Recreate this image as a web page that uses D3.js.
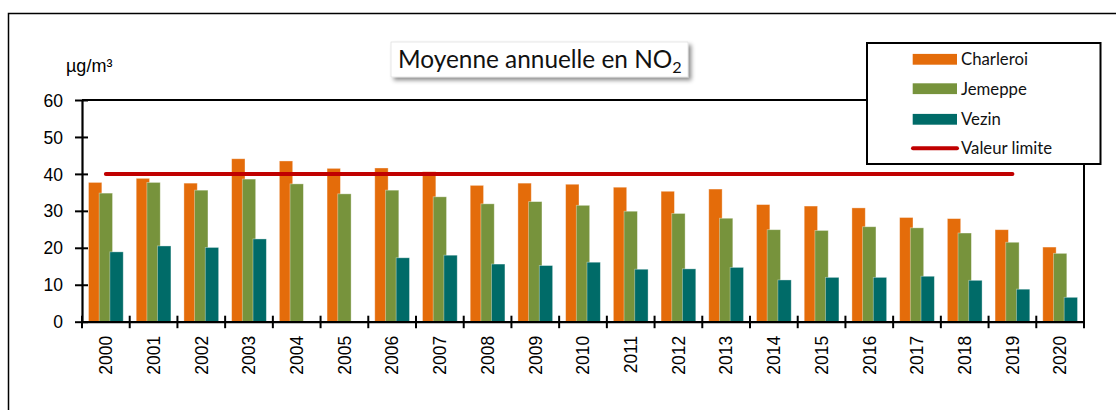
<!DOCTYPE html>
<html>
<head>
<meta charset="utf-8">
<script src="https://cdn.jsdelivr.net/npm/d3@7"></script>
<style>
  html, body { margin: 0; padding: 0; background: #fff; }
  svg { display: block; }
</style>
</head>
<body>
<script>
// ---- Data ----
const years = ["2000","2001","2002","2003","2004","2005","2006","2007","2008","2009","2010",
               "2011","2012","2013","2014","2015","2016","2017","2018","2019","2020"];
const charleroi = [37.7,38.8,37.5,44.1,43.5,41.5,41.6,40.6,36.9,37.5,37.2,36.4,35.3,35.9,31.7,31.3,30.8,28.2,27.9,24.9,20.2];
const jemeppe   = [34.8,37.7,35.6,38.6,37.3,34.6,35.6,33.8,31.9,32.5,31.5,29.9,29.3,28.0,24.9,24.7,25.7,25.4,24.0,21.5,18.5];
const vezin     = [18.9,20.5,20.1,22.4,null,null,17.3,18.0,15.6,15.2,16.1,14.2,14.3,14.7,11.3,12.0,12.0,12.3,11.2,8.8,6.6];
const limitValue = 40;
const limitYears = ["2000","2019"];
const yTicks = [0,10,20,30,40,50,60];
const seriesNames = ["Charleroi","Jemeppe","Vezin"];
const limitName = "Valeur limite";
const titleText = "Moyenne annuelle en NO";
const titleSub = "2";
const unitText = "µg/m³";

// ---- Layout ----
const W = 1116, H = 410;
const colors = ["#E46C0A", "#77933C", "#006B68"];
const limitColor = "#C00000";

const svg = d3.select("body").append("svg").attr("width", W).attr("height", H);

const defs = svg.append("defs");
const f = defs.append("filter").attr("id","shadow").attr("x","-10%").attr("y","-30%").attr("width","130%").attr("height","180%");
f.append("feDropShadow").attr("dx",3).attr("dy",3).attr("stdDeviation",2.2).attr("flood-color","#000").attr("flood-opacity",0.45);

// outer frame (left & top)
svg.append("path").attr("d", `M8.5,${H} L8.5,13.5 L${W},13.5`)
  .attr("fill","none").attr("stroke","#000").attr("stroke-width",1.5);

const x = d3.scaleBand().domain(years).range([82, 1084]).padding(0);
const y = d3.scaleLinear().domain([0, 60]).range([321.7, 100]);

const bw = x.bandwidth();
const barW = bw * 0.28;
const step = bw * 0.224;
const groupOff = (bw - (2 * step + barW)) / 2;

// plot frame (top & right)
svg.append("path")
  .attr("d", `M82,${y(60)} L1084,${y(60)} L1084,${y(0)}`)
  .attr("fill","none").attr("stroke","#000").attr("stroke-width",2);

// bars
const series = [charleroi, jemeppe, vezin];
series.forEach((vals, si) => {
  svg.append("g").selectAll("rect")
    .data(years.map((yr, i) => ({yr, v: vals[i]})).filter(d => d.v != null))
    .join("rect")
    .attr("x", d => x(d.yr) + groupOff + si * step)
    .attr("y", d => y(d.v))
    .attr("width", barW)
    .attr("height", d => y(0) - y(d.v))
    .attr("fill", colors[si])
    .attr("stroke", "rgba(255,255,255,0.45)")
    .attr("stroke-width", 0.8);
});

// limit line
svg.append("line")
  .attr("x1", x(limitYears[0]) + bw/2)
  .attr("x2", x(limitYears[1]) + bw/2)
  .attr("y1", y(limitValue)).attr("y2", y(limitValue))
  .attr("stroke", limitColor).attr("stroke-width", 4).attr("stroke-linecap","round");

// y axis
const yAxis = d3.axisLeft(y).tickValues(yTicks).tickSize(0).tickPadding(0);
const gy = svg.append("g").attr("transform","translate(82,0)").call(yAxis);
gy.select(".domain").attr("stroke","#000").attr("stroke-width",2.2);
gy.selectAll(".tick text").attr("x",-19).attr("dy","0.35em")
  .attr("font-family","Liberation Sans, Arial, sans-serif").attr("font-size",17.5).attr("fill","#000");
gy.selectAll(".tick").append("line").attr("x1",-7).attr("x2",6).attr("stroke","#000").attr("stroke-width",2);

// x axis
const xAxis = d3.axisBottom(x).tickSize(0).tickPadding(0);
const gx = svg.append("g").attr("transform",`translate(0,${y(0)})`).call(xAxis);
gx.select(".domain").attr("stroke","#000").attr("stroke-width",2.2);
gx.selectAll(".tick text")
  .attr("transform","rotate(-90)")
  .attr("text-anchor","end")
  .attr("x",-14).attr("y",0).attr("dy","0.36em")
  .attr("font-family","Liberation Sans, Arial, sans-serif").attr("font-size",17.5).attr("fill","#000");
// boundary ticks
const bounds = years.map(yr => x(yr)).concat([x(years[years.length-1]) + bw]);
gx.append("g").selectAll("line").data(bounds).join("line")
  .attr("x1", d => d).attr("x2", d => d)
  .attr("y1", -6).attr("y2", 6.5)
  .attr("stroke","#000").attr("stroke-width",2);

// unit label
svg.append("text").attr("x",66).attr("y",72).text(unitText)
  .attr("font-family","Liberation Sans, Arial, sans-serif").attr("font-size",18).attr("fill","#000");

// title box
const tb = {x: 391, y: 42, w: 297, h: 35};
svg.append("rect").attr("x",tb.x).attr("y",tb.y).attr("width",tb.w).attr("height",tb.h)
  .attr("fill","#fff").attr("stroke","#d8d8d8").attr("stroke-width",0.6).attr("filter","url(#shadow)");
const title = svg.append("text").attr("x", 398).attr("y", 68)
  .attr("font-family","Lato, 'Open Sans', sans-serif").attr("font-size",24).attr("fill","#111");
title.append("tspan").text(titleText);
title.append("tspan").text(titleSub).attr("font-size",16).attr("dy",5);
// fit title width to ~284px
const tw = title.node().getComputedTextLength();
title.attr("font-size", 24 * 284 / tw);
title.select("tspan:last-child").attr("font-size", 16 * 284 / tw);

// legend
const lg = svg.append("g");
lg.append("rect").attr("x",867).attr("y",43).attr("width",233.5).attr("height",121)
  .attr("fill","#fff").attr("stroke","#000").attr("stroke-width",2);
const legY = [59.3, 88.7, 119.3, 148.3];
seriesNames.forEach((n, i) => {
  lg.append("rect").attr("x",912.7).attr("y",legY[i]-5.4).attr("width",44.3).attr("height",10.8).attr("fill",colors[i]);
});
lg.append("line").attr("x1",913).attr("x2",957).attr("y1",legY[3]).attr("y2",legY[3])
  .attr("stroke",limitColor).attr("stroke-width",4).attr("stroke-linecap","round");
const legTexts = lg.selectAll("text.leg").data(seriesNames.concat([limitName])).join("text")
  .attr("class","leg")
  .attr("x",961).attr("y",(d,i)=>legY[i]).attr("dy","0.36em")
  .text(d=>d)
  .attr("font-family","Lato, 'Open Sans', sans-serif").attr("font-size",17).attr("fill","#111");
const cw = legTexts.filter((d,i)=>i===0).node().getComputedTextLength();
legTexts.attr("font-size", 17 * 67 / cw);
</script>
</body>
</html>
